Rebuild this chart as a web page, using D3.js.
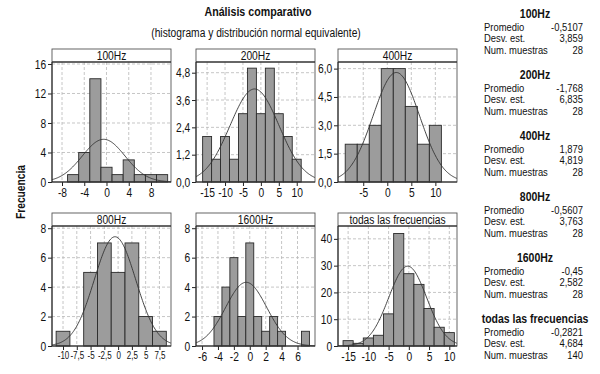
<!DOCTYPE html>
<html>
<head>
<meta charset="utf-8">
<script src="https://cdn.jsdelivr.net/npm/d3@7"></script>
<style>
  body { margin: 0; background: #fff; }
  text { font-family: 'Liberation Sans', Arial, sans-serif; fill: #111; }
</style>
</head>
<body>
<svg id="chart" width="600" height="374"></svg>
<script>
// panel data
var panelNames = ["100Hz", "200Hz", "400Hz", "800Hz", "1600Hz", "todas las frecuencias"];

var binCenters = [
  [-6, -4, -2, 0, 2, 4, 6, 8, 10],
  [-15, -12.5, -10, -7.5, -5, -2.5, 0, 2.5, 5, 7.5, 10],
  [-7.5, -5, -2.5, 0, 2.5, 5, 7.5, 10],
  [-10, -7.5, -5, -2.5, 0, 2.5, 5, 7.5],
  [-4, -3, -2, -1, 0, 1, 2, 3, 4, 5, 6, 7],
  [-15, -12.5, -10, -7.5, -5, -2.5, 0, 2.5, 5, 7.5, 10]
];
var binCounts = [
  [1, 4, 14, 2, 1, 3, 1, 1, 1],
  [2, 1, 2, 1, 3, 5, 3, 5, 3, 2, 1],
  [2, 2, 3, 6, 6, 4, 2, 3],
  [1, 0, 5, 7, 5, 7, 2, 1],
  [2, 4, 6, 2, 7, 2, 1, 2, 1, 0, 0, 1],
  [2, 1, 3, 4, 12, 42, 27, 23, 14, 7, 5]
];
var binWidths = [2, 2.5, 2.5, 2.5, 1, 2.5];

// summary statistics (right column)
var means = [-0.5107, -1.768, 1.879, -0.5607, -0.45, -0.2821];
var stdDevs = [3.859, 6.835, 4.819, 3.763, 2.582, 4.684];
var sampleSizes = [28, 28, 28, 28, 28, 140];
var statLabels = ["Promedio", "Desv. est.", "Num. muestras"];

// axes
var xTicks = [
  [-8, -4, 0, 4, 8],
  [-15, -10, -5, 0, 5, 10],
  [-5, 0, 5, 10],
  [-10, -7.5, -5, -2.5, 0, 2.5, 5, 7.5],
  [-6, -4, -2, 0, 2, 4, 6],
  [-15, -10, -5, 0, 5, 10]
];
var yTicks = [
  [0, 4, 8, 12, 16],
  [0, 1.2, 2.4, 3.6, 4.8],
  [0, 1.5, 3, 4.5, 6],
  [0, 2, 4, 6, 8],
  [0, 2, 4, 6, 8],
  [0, 10, 20, 30, 40]
];
var yDecimals = [0, 1, 1, 0, 0, 0];
var xDomains = [[-9.8, 11.6], [-18.1, 15.1], [-10.25, 14.5], [-12, 9.6], [-6.76, 8.2], [-17.5, 11.9]];
var yDomains = [[0, 16.27], [0, 5.27], [0, 6.35], [0, 8.15], [0, 8.15], [0, 44.8]];

// layout
var colX = [52, 196, 338];
var rowY = [49, 213];
var panelW = 119;
var stripH = 13;
var plotH = 120;
var squeeze = 0.82;   // the original uses a narrow face; squeeze Liberation Sans to match
var xLabelSize = [12.5, 12.5, 12.5, 10, 12.5, 12.5];

var svg = d3.select("#chart");

var locale = d3.formatLocale({ decimal: ",", thousands: ".", grouping: [3], currency: ["", ""], minus: "-" });
function comma(v) { return String(v).replace(".", ","); }

function label(parent, x, y, str, size, anchor, bold, rotate) {
  return parent.append("text")
    .attr("transform", `translate(${x}, ${y})` + (rotate ? ` rotate(${rotate})` : "") + ` scale(${squeeze}, 1)`)
    .attr("text-anchor", anchor || "start")
    .style("font-size", size + "px")
    .style("font-weight", bold ? "bold" : "normal")
    .text(str);
}

// titles
label(svg, 258, 16, "Análisis comparativo", 13, "middle", true);
label(svg, 256, 37, "(histograma y distribución normal equivalente)", 12.5, "middle");
label(svg, 25, 192, "Frecuencia", 12.5, "middle", true, -90);

panelNames.forEach(function(name, i) {
  var left = colX[i % 3];
  var top = rowY[Math.floor(i / 3)];
  var plotTop = top + stripH;

  var x = d3.scaleLinear().domain(xDomains[i]).range([0, panelW]);
  var y = d3.scaleLinear().domain(yDomains[i]).range([plotH, 0]);

  var g = svg.append("g").attr("transform", `translate(${left}, ${plotTop})`);

  // gridlines
  g.selectAll(".vgrid")
    .data(xTicks[i])
    .enter().append("line")
    .attr("x1", d => x(d)).attr("x2", d => x(d))
    .attr("y1", 0).attr("y2", plotH)
    .attr("stroke", "#b8b8b8").attr("stroke-dasharray", "3,2").attr("stroke-width", 0.8);

  g.selectAll(".hgrid")
    .data(yTicks[i].slice(1))
    .enter().append("line")
    .attr("x1", 0).attr("x2", panelW)
    .attr("y1", d => y(d)).attr("y2", d => y(d))
    .attr("stroke", "#b8b8b8").attr("stroke-dasharray", "3,2").attr("stroke-width", 0.8);

  // histogram bars
  var bins = binCenters[i].map((c, j) => ({ c: c, n: binCounts[i][j] }));
  var w = binWidths[i];
  g.selectAll(".bar")
    .data(bins.filter(d => d.n > 0))
    .enter().append("rect")
    .attr("x", d => x(d.c - w / 2))
    .attr("width", d => x(d.c + w / 2) - x(d.c - w / 2))
    .attr("y", d => y(d.n))
    .attr("height", d => plotH - y(d.n))
    .attr("fill", "#9c9c9c")
    .attr("stroke", "#2a2a2a")
    .attr("stroke-width", 0.9);

  // equivalent normal curve from the listed mean / std dev / n
  var mu = means[i], sd = stdDevs[i], scale = sampleSizes[i] * w;
  var xs = d3.range(xDomains[i][0], xDomains[i][1], (xDomains[i][1] - xDomains[i][0]) / 150).concat([xDomains[i][1]]);
  var line = d3.line()
    .x(d => x(d))
    .y(d => y(scale * Math.exp(-0.5 * Math.pow((d - mu) / sd, 2)) / (sd * Math.sqrt(2 * Math.PI))));
  g.append("path")
    .datum(xs)
    .attr("d", line)
    .attr("fill", "none")
    .attr("stroke", "#333")
    .attr("stroke-width", 0.9);

  // axes
  var fmtY = yDecimals[i] ? locale.format(".1f") : locale.format("d");
  var yAxis = d3.axisLeft(y).tickValues(yTicks[i]).tickSize(4).tickPadding(3).tickFormat(fmtY);
  var xAxis = d3.axisBottom(x).tickValues(xTicks[i]).tickSize(4).tickPadding(2).tickFormat(comma);

  var ya = g.append("g").call(yAxis);
  var xa = g.append("g").attr("transform", `translate(0, ${plotH})`).call(xAxis);
  [ya, xa].forEach(function(a, k) {
    a.select(".domain").remove();
    a.selectAll("line").attr("stroke", "#222");
    a.selectAll("text")
      .attr("font-family", null)
      .attr("font-size", null)
      .style("font-size", (k ? xLabelSize[i] : 12.5) + "px")
      .attr("fill", "#111")
      .attr("transform", `scale(${k && xLabelSize[i] < 12 ? 0.8 : squeeze}, 1)`);
  });

  // frame and strip
  g.append("rect")
    .attr("x", 0).attr("y", -stripH)
    .attr("width", panelW).attr("height", plotH + stripH)
    .attr("fill", "none").attr("stroke", "#555").attr("stroke-width", 0.9);

  g.append("line")
    .attr("x1", 0).attr("x2", panelW).attr("y1", 0).attr("y2", 0)
    .attr("stroke", "#333").attr("stroke-width", 1.6);

  g.append("line")
    .attr("x1", 0).attr("x2", 0).attr("y1", 0).attr("y2", plotH)
    .attr("stroke", "#222").attr("stroke-width", 1);
  g.append("line")
    .attr("x1", 0).attr("x2", panelW).attr("y1", plotH).attr("y2", plotH)
    .attr("stroke", "#222").attr("stroke-width", 1);

  label(g, panelW / 2, -2.5, name, 12.5, "middle");

  // statistics column
  var s = svg.append("g").attr("transform", `translate(0, ${13 + i * 61})`);
  label(s, 535, 4.5, name, 12.8, "middle", true);

  var vals = [comma(means[i]), comma(stdDevs[i]), String(sampleSizes[i])];
  statLabels.forEach(function(lab, k) {
    var yy = 17.5 + k * 11.7;
    label(s, 484, yy, lab, 11.5);
    label(s, 583, yy, vals[k], 11.5, "end");
  });
});
</script>
</body>
</html>
